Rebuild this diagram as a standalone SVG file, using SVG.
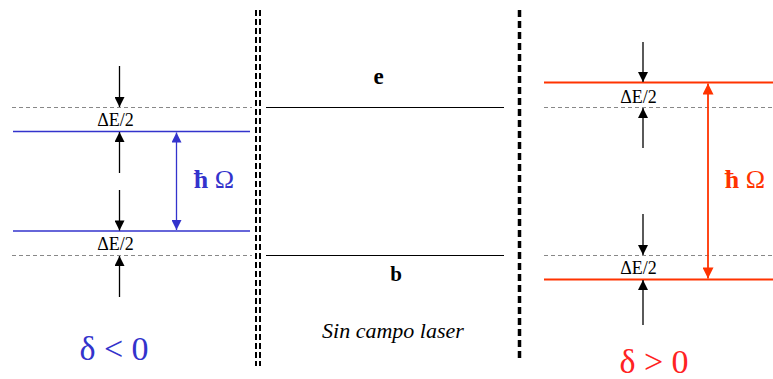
<svg xmlns="http://www.w3.org/2000/svg" width="773" height="379" viewBox="0 0 773 379">
<defs>
<marker id="ak" viewBox="0 0 10 10" refX="10" refY="5" markerWidth="11" markerHeight="10" markerUnits="userSpaceOnUse" orient="auto"><path d="M0,0 L10,5 L0,10 Z" fill="#000"/></marker>
<marker id="ab" viewBox="0 0 10 10" refX="10" refY="5" markerWidth="11" markerHeight="10" markerUnits="userSpaceOnUse" orient="auto-start-reverse"><path d="M0,0 L10,5 L0,10 Z" fill="#3333cc"/></marker>
<marker id="ar" viewBox="0 0 10 10" refX="10" refY="5" markerWidth="12" markerHeight="11" markerUnits="userSpaceOnUse" orient="auto-start-reverse"><path d="M0,0 L10,5 L0,10 Z" fill="#ff3300"/></marker>
</defs>
<style>
text{font-family:'Liberation Serif','Times New Roman',serif}
.dash{stroke:#888;stroke-width:1;stroke-dasharray:4 3;fill:none}
.k{stroke:#000;stroke-width:1.3;marker-end:url(#ak)}
.lb{font-size:18px;text-anchor:middle;fill:#000}
</style>
<rect width="773" height="379" fill="#fff"/>
<g id="separators">
<line x1="256" y1="10" x2="256" y2="366" stroke="#000" stroke-width="2" stroke-dasharray="6 3"/>
<line x1="260" y1="10" x2="260" y2="366" stroke="#000" stroke-width="2" stroke-dasharray="6 3"/>
<line x1="519.5" y1="10" x2="519.5" y2="362" stroke="#000" stroke-width="3.5" stroke-dasharray="7 4"/>
</g>
<g id="left-panel">
<line class="dash" x1="12" y1="107.5" x2="252" y2="107.5"/>
<line class="dash" x1="12" y1="255.5" x2="252" y2="255.5"/>
<line x1="13" y1="131.5" x2="250" y2="131.5" stroke="#3333cc" stroke-width="1.5"/>
<line x1="13" y1="231" x2="250" y2="231" stroke="#3333cc" stroke-width="1.5"/>
<text class="lb" x="115.5" y="125.5">ΔE/2</text>
<text class="lb" x="115.5" y="250">ΔE/2</text>
<text x="214" y="188" font-size="26" fill="#3333cc" text-anchor="middle"><tspan font-weight="bold">ħ</tspan> Ω</text>
<text x="114" y="360" font-size="34" fill="#3333cc" text-anchor="middle">δ &lt; 0</text>
</g>
<g id="middle-panel">
<line x1="266" y1="107.5" x2="504" y2="107.5" stroke="#000" stroke-width="1.2"/>
<line x1="266" y1="255.5" x2="504" y2="255.5" stroke="#000" stroke-width="1.2"/>
<text x="378.5" y="84" font-size="23" text-anchor="middle" font-weight="bold">e</text>
<text x="396" y="281" font-size="21" text-anchor="middle" font-weight="bold">b</text>
<text x="393" y="338" font-size="22" text-anchor="middle" font-style="italic">Sin campo laser</text>
</g>
<g id="right-panel">
<line class="dash" x1="544" y1="107.5" x2="773" y2="107.5"/>
<line class="dash" x1="544" y1="255.5" x2="773" y2="255.5"/>
<line x1="544" y1="82.5" x2="773" y2="82.5" stroke="#ff3300" stroke-width="1.8"/>
<line x1="544" y1="279.5" x2="773" y2="279.5" stroke="#ff3300" stroke-width="1.8"/>
<text class="lb" x="638.5" y="102.5">ΔE/2</text>
<text class="lb" x="638.5" y="274">ΔE/2</text>
<text x="745" y="188" font-size="26" fill="#ff3300" text-anchor="middle"><tspan font-weight="bold">ħ</tspan> Ω</text>
<text x="654" y="373" font-size="34" fill="#ff2222" text-anchor="middle">δ &gt; 0</text>
</g>
<g id="connectors">
<line class="k" x1="119.5" y1="66" x2="119.5" y2="107"/>
<line class="k" x1="119.5" y1="173" x2="119.5" y2="132"/>
<line class="k" x1="119.5" y1="190" x2="119.5" y2="230.5"/>
<line class="k" x1="119.5" y1="297" x2="119.5" y2="256"/>
<line x1="176.5" y1="132.5" x2="176.5" y2="230" stroke="#3333cc" stroke-width="1.3" marker-start="url(#ab)" marker-end="url(#ab)"/>
<line class="k" x1="643" y1="42" x2="643" y2="82"/>
<line class="k" x1="643" y1="148" x2="643" y2="108"/>
<line class="k" x1="643" y1="214" x2="643" y2="255"/>
<line class="k" x1="643" y1="325" x2="643" y2="280"/>
<line x1="708" y1="83.5" x2="708" y2="278.5" stroke="#ff3300" stroke-width="1.8" marker-start="url(#ar)" marker-end="url(#ar)"/>
</g>
</svg>
